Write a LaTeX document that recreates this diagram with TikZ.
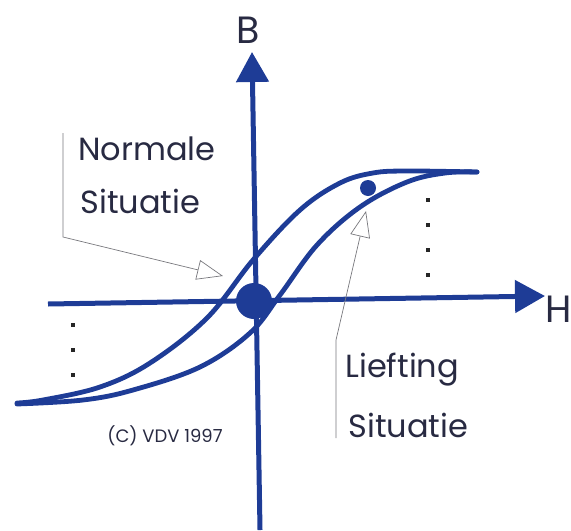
\documentclass[tikz,border=0pt]{standalone}
\usepackage{fontspec}
\setmainfont{Poppins}
\usetikzlibrary{arrows.meta}
\definecolor{hblue}{RGB}{30,60,150}
\definecolor{textc}{RGB}{40,42,66}
\definecolor{ptr}{RGB}{120,120,125}
\tikzset{
  axis/.style={hblue, line width=2.5pt, -{Triangle[length=15pt,width=16pt]}},
  loop/.style={hblue, line width=2.4pt, line cap=round},
  pointer/.style={ptr, line width=0.35pt, -{Triangle[open,length=13pt,width=10pt]}},
  lbl/.style={textc, font=\fontsize{16}{19}\selectfont, anchor=base west, inner sep=0pt},
  axlbl/.style={textc, font=\fontsize{19}{23}\selectfont, inner sep=0pt},
  tick/.style={fill=black!85, minimum size=1.6pt, inner sep=0pt, shape=rectangle},
}
\begin{document}
\begin{tikzpicture}[x=0.5pt,y=-0.5pt]
\useasboundingbox (0,0) rectangle (571,530);
% axes
\coordinate (Bbot) at (260,530);
\coordinate (Btop) at (252,52);
\coordinate (Hleft) at (48,304);
\coordinate (Hright) at (545,296);
\draw[axis] (Hleft) -- (Hright);
\draw[axis] (Bbot) -- (Btop);
\node[axlbl, anchor=base] (B) at (248,43) {B};
\node[axlbl, anchor=base west] (H) at (545,322) {H};
% hysteresis loop
\draw[loop] plot[smooth, tension=0.6] coordinates {(17,403) (43,400) (100,387) (150,363) (207,318) (253,260) (300,210) (340,183) (373,173) (407,171) (477,172)};
\draw[loop] plot[smooth, tension=0.6] coordinates {(17,404) (83,400) (133,390) (200,367) (250,333) (280,295) (317,245) (360,207) (407,182) (445,173) (477,172)};
% dots
\node[circle, fill=hblue, minimum size=18pt, inner sep=0pt] (big) at (254,301) {};
\node[circle, fill=hblue, minimum size=8pt, inner sep=0pt] (small) at (368,188) {};
% dotted columns
\foreach \y [count=\i] in {200,225,250,275} \node[tick] (r\i) at (428,\y) {};
\foreach \y [count=\i] in {325,350,375} \node[tick] (l\i) at (73,\y) {};
% labels
\node[lbl] (norm1) at (78,160) {Normale};
\node[lbl] (norm2) at (80,213) {Situatie};
\node[lbl] (lief1) at (345,377) {Liefting};
\node[lbl] (lief2) at (348,437) {Situatie};
\node[textc, font=\fontsize{9}{11}\selectfont, anchor=base west, inner sep=0pt] (copy) at (107,442) {(C) VDV 1997};
% pointers
\coordinate (n0) at (63,133);
\coordinate (n1) at (63,237);
\coordinate (nt) at (223,276);
\draw[pointer] (n0) -- (n1) -- (nt);
\coordinate (l0) at (336,438);
\coordinate (l1) at (336,340);
\coordinate (lt) at (366,211);
\draw[pointer] (l0) -- (l1) -- (lt);
\end{tikzpicture}
\end{document}
